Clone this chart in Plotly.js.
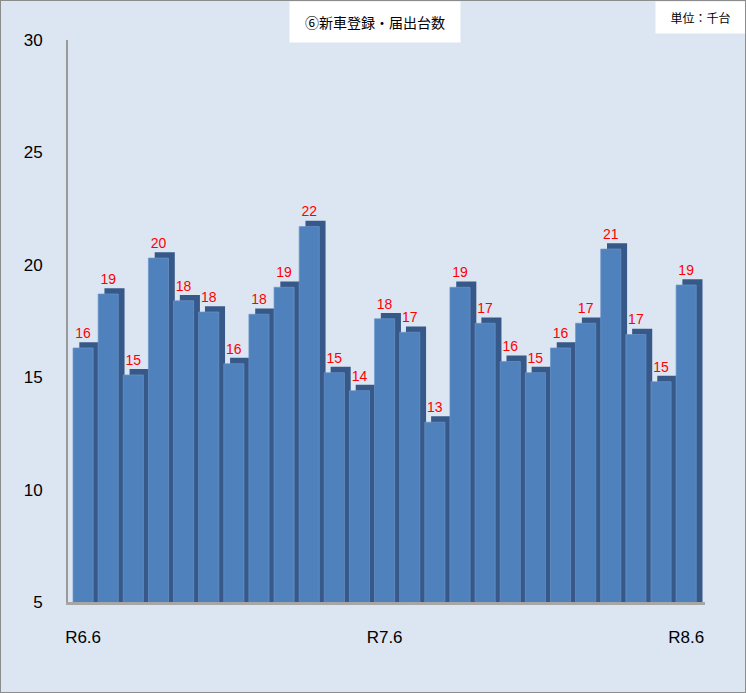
<!DOCTYPE html>
<html>
<head>
<meta charset="utf-8">
<script src="https://cdn.plot.ly/plotly-3.0.1.min.js"></script>
<style>
  body { margin: 0; background: #ffffff; }
  #chart { width: 744px; height: 691px; border: 1px solid #8c8c8c; }
</style>
</head>
<body>
<div id="chart"></div>
<script>
  // months R6.6 .. R8.6
  let months = [
    "R6.6", "R6.7", "R6.8", "R6.9", "R6.10", "R6.11", "R6.12", "R7.1", "R7.2",
    "R7.3", "R7.4", "R7.5", "R7.6", "R7.7", "R7.8", "R7.9", "R7.10", "R7.11",
    "R7.12", "R8.1", "R8.2", "R8.3", "R8.4", "R8.5", "R8.6",
  ];
  // 新車登録・届出台数 (千台)
  let units = [
    16.3, 18.7, 15.1, 20.3, 18.4, 17.9, 15.6, 17.8, 19.0, 21.7, 15.2, 14.4,
    17.6, 17.0, 13.0, 19.0, 17.4, 15.7, 15.2, 16.3, 17.4, 20.7, 16.9, 14.8, 19.1,
  ];
  let shownTicks = ["R6.6", "R7.6", "R8.6"];

  let chart = document.getElementById("chart");
  let depth = 0.26;

  let traces = [
    {
      // dark back/side of each bar (3d look)
      type: "bar",
      x: months,
      y: units.map((v) => v + depth),
      width: 0.8,
      offset: -0.15,
      marker: { color: "#36598a" },
      cliponaxis: false,
      hoverinfo: "skip",
    },
    {
      type: "bar",
      x: months,
      y: units,
      width: 0.8,
      offset: -0.4,
      marker: { color: "#4f81bd", line: { color: "#6b95c9", width: 0.7 } },
      cliponaxis: false,
    },
    {
      type: "scatter",
      mode: "markers+text",
      x: months,
      y: units,
      text: units.map((v) => v.toFixed(0)),
      textposition: "top center",
      marker: { size: 9, opacity: 0 },
      textfont: { family: "Liberation Sans, Arial, sans-serif", size: 14, color: "#ff0000" },
      cliponaxis: false,
      hoverinfo: "skip",
    },
  ];

  let layout = {
    width: 744,
    height: 691,
    margin: { l: 67, r: 40, t: 39, b: 90 },
    paper_bgcolor: "#dce6f2",
    plot_bgcolor: "#dce6f2",
    barmode: "overlay",
    showlegend: false,
    font: { family: "Liberation Sans, Arial, sans-serif", color: "#000000" },
    xaxis: {
      type: "category",
      categoryorder: "array",
      categoryarray: months,
      range: [-0.6, 24.75],
      tickvals: shownTicks,
      ticktext: shownTicks,
      ticks: "outside",
      ticklen: 18,
      tickcolor: "rgba(0,0,0,0)",
      tickfont: { size: 17 },
      showline: true,
      linecolor: "#a6a6a6",
      linewidth: 3,
      showgrid: false,
      zeroline: false,
    },
    yaxis: {
      range: [5, 30],
      dtick: 5,
      ticks: "outside",
      ticklen: 20,
      tickcolor: "rgba(0,0,0,0)",
      tickfont: { size: 17 },
      showline: true,
      linecolor: "#9a9a9a",
      linewidth: 2,
      showgrid: false,
      zeroline: false,
    },
    annotations: [
      {
        xref: "paper",
        yref: "paper",
        x: 0.482,
        y: 1.032,
        xanchor: "center",
        yanchor: "middle",
        text: "⑥新車登録・届出台数",
        showarrow: false,
        bgcolor: "#ffffff",
        width: 170,
        height: 40,
        borderpad: 0,
        font: { family: "Noto Sans CJK JP, sans-serif", size: 14, color: "#000000" },
      },
      {
        xref: "paper",
        yref: "paper",
        x: 0.993,
        y: 1.04,
        xanchor: "center",
        yanchor: "middle",
        text: "単位：千台",
        showarrow: false,
        bgcolor: "#ffffff",
        width: 89,
        height: 31,
        borderpad: 0,
        font: { family: "Noto Sans CJK JP, sans-serif", size: 12, color: "#000000" },
      },
    ],
  };

  Plotly.newPlot(chart, traces, layout, { displayModeBar: false, staticPlot: true });
</script>
</body>
</html>
